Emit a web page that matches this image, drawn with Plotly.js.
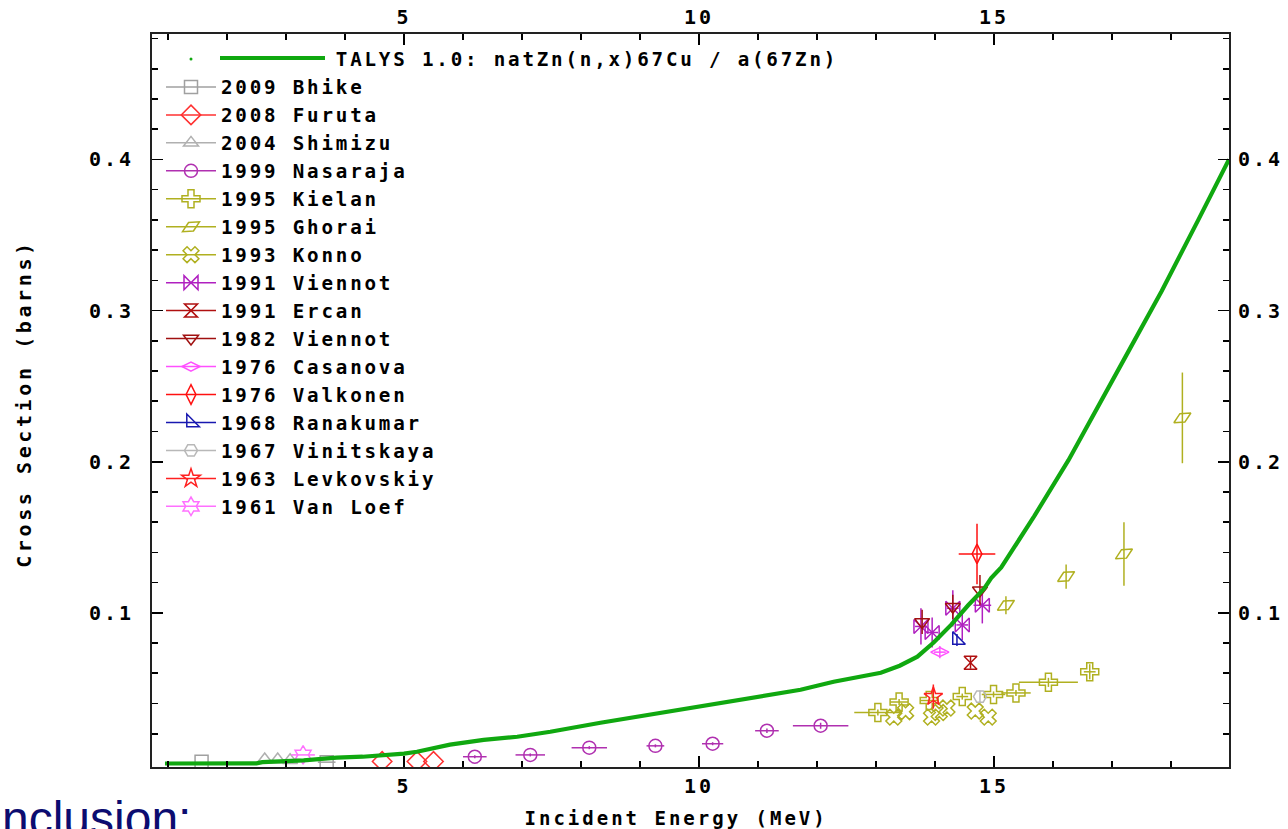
<!DOCTYPE html>
<html>
<head>
<meta charset="utf-8">
<script src="https://cdn.plot.ly/plotly-3.0.1.min.js"></script>
<style>
html,body{margin:0;padding:0;background:#fff;}
#chart{width:1288px;height:829px;}
.xtick text,.ytick text,.x2tick text,.y2tick text{letter-spacing:3px;}
text.legendtext{letter-spacing:2.8px;}
</style>
</head>
<body>
<div id="chart"></div>
<script>
// ---- TALYS 1.0 evaluation ----
const talysE = [0.95, 2.5, 2.6, 3.3, 3.86, 4.3, 5.0, 5.22, 5.78, 6.35, 6.92, 7.48, 8.33, 9.18, 10.03, 10.87, 11.72, 12.28, 13.08, 13.4, 13.7, 13.98, 14.27, 14.56, 14.83, 14.95, 15.12, 15.68, 16.26, 17.29, 17.84, 18.46, 18.98];
const talysS = [0.0003, 0.0004, 0.0012, 0.0024, 0.0042, 0.0048, 0.0068, 0.0081, 0.0128, 0.016, 0.018, 0.0213, 0.0273, 0.0326, 0.0379, 0.0438, 0.0491, 0.0544, 0.0603, 0.065, 0.071, 0.0805, 0.092, 0.105, 0.116, 0.123, 0.130, 0.164, 0.201, 0.274, 0.313, 0.360, 0.400];
const talysName = "TALYS 1.0: natZn(n,x)67Cu / a(67Zn)";

// ---- experimental data (E in MeV, cross section in barns) ----
const bhikeE = [1.57, 3.69], bhikeS = [0.0015, 0.0012], bhikeDE = [0, 0.15], bhikeDS = [0, 0];
const furutaE = [4.63, 5.22, 5.5], furutaS = [0.0017, 0.0017, 0.0017], furutaDE = [0, 0, 0], furutaDS = [0, 0, 0];
const shimizuE = [2.64, 2.86, 3.07], shimizuS = [0.003, 0.003, 0.0025], shimizuDE = [0, 0, 0], shimizuDS = [0, 0, 0];
const nasarajaE = [6.2, 7.14, 8.14, 9.26, 10.23, 11.15, 12.06], nasarajaS = [0.0048, 0.006, 0.0108, 0.012, 0.0134, 0.022, 0.0253], nasarajaDE = [0.2, 0.25, 0.3, 0.15, 0.18, 0.2, 0.47], nasarajaDS = [0.001, 0.001, 0.001, 0.001, 0.001, 0.0015, 0.002];
const kielanE = [13.03, 13.39, 13.9, 14.46, 14.99, 15.37, 15.92, 16.62], kielanS = [0.034, 0.041, 0.042, 0.0446, 0.046, 0.047, 0.054, 0.061], kielanDE = [0.4, 0.15, 0.15, 0.1, 0.2, 0.25, 0.5, 0.1], kielanDS = [0.002, 0.002, 0.002, 0.002, 0.002, 0.002, 0.003, 0.005];
const ghoraiE = [15.2, 16.22, 17.2, 18.19], ghoraiS = [0.105, 0.124, 0.139, 0.229], ghoraiDE = [0, 0, 0, 0], ghoraiDS = [0.006, 0.008, 0.021, 0.03];
const konnoE = [13.3, 13.5, 13.94, 14.07, 14.2, 14.68, 14.9], konnoS = [0.031, 0.0346, 0.031, 0.034, 0.037, 0.035, 0.031], konnoDE = [0, 0, 0, 0, 0, 0, 0], konnoDS = [0, 0, 0, 0, 0, 0, 0];
const viennot91E = [13.76, 13.95, 14.3, 14.46, 14.8], viennot91S = [0.091, 0.087, 0.103, 0.092, 0.105], viennot91DE = [0.1, 0.1, 0.1, 0.1, 0.15], viennot91DS = [0.012, 0.01, 0.012, 0.01, 0.012];
const ercanE = [14.6], ercanS = [0.067], ercanDE = [0], ercanDS = [0.004];
const viennot82E = [13.78, 14.3, 14.76], viennot82S = [0.094, 0.104, 0.115], viennot82DE = [0, 0, 0], viennot82DS = [0.008, 0.008, 0.01];
const casanovaE = [14.08], casanovaS = [0.074], casanovaDE = [0.1], casanovaDS = [0.004];
const valkonenE = [14.71], valkonenS = [0.139], valkonenDE = [0.31], valkonenDS = [0.02];
const ranakumarE = [14.37], ranakumarS = [0.082], ranakumarDE = [0], ranakumarDS = [0.004];
const vinitskayaE = [14.76], vinitskayaS = [0.0446], vinitskayaDE = [0], vinitskayaDS = [0.004];
const levkovskiyE = [13.97], levkovskiyS = [0.0446], levkovskiyDE = [0], levkovskiyDS = [0.008];
const vanloefE = [3.29], vanloefS = [0.006], vanloefDE = [0.2], vanloefDS = [0];

// ---- axis ticks and titles ----
const xMajor = [5, 10, 15];
const yMajor = [0.1, 0.2, 0.3, 0.4];
const yMajorText = ["0.1", "0.2", "0.3", "0.4"];
const xTitle = "Incident Energy (MeV)";
const yTitle = "Cross Section (barns)";
const slideText = "nclusion:";

const MONO = "DejaVu Sans Mono";

function sep(arr) {
  const out = [];
  arr.forEach((v, i) => { if (i) out.push(null); out.push(v); });
  return out;
}

function mk(name, E, S, dE, dS, symbol, color, size, angle) {
  return {
    type: "scatter",
    mode: "lines+markers",
    name: name,
    x: sep(E), y: sep(S),
    connectgaps: false,
    line: {color: color, width: 1.5},
    marker: {symbol: symbol, size: size || 13, color: color, angle: angle || 0,
             line: {color: color, width: 1.5}},
    error_x: {type: "data", array: sep(dE), visible: true, color: color, thickness: 1.5, width: 0},
    error_y: {type: "data", array: sep(dS), visible: true, color: color, thickness: 1.5, width: 0},
    hoverinfo: "x+y+name"
  };
}

const traces = [];
// legend-only entry for TALYS (dot + line drawn as shape)
traces.push({type: "scatter", mode: "markers", x: [null], y: [null],
  name: "\u00a0\u00a0\u00a0\u00a0\u00a0\u00a0\u00a0\u00a0" + talysName,
  marker: {size: 3, color: "#10a810"}});
traces.push(mk("2009 Bhike", bhikeE, bhikeS, bhikeDE, bhikeDS, "square-open", "#a0a0a0"));
traces.push(mk("2008 Furuta", furutaE, furutaS, furutaDE, furutaDS, "diamond-open", "#ff3030", 15));
traces.push(mk("2004 Shimizu", shimizuE, shimizuS, shimizuDE, shimizuDS, "triangle-up-open", "#b0b0b0"));
traces.push(mk("1999 Nasaraja", nasarajaE, nasarajaS, nasarajaDE, nasarajaDS, "circle-open", "#b030b0"));
traces.push(mk("1995 Kielan", kielanE, kielanS, kielanDE, kielanDS, "cross-open", "#b0b020", 15));
traces.push(mk("1995 Ghorai", ghoraiE, ghoraiS, ghoraiDE, ghoraiDS, "diamond-wide-open", "#b0b020", 14, -30));
traces.push(mk("1993 Konno", konnoE, konnoS, konnoDE, konnoDS, "x-open", "#b0b020", 14));
traces.push(mk("1991 Viennot", viennot91E, viennot91S, viennot91DE, viennot91DS, "bowtie-open", "#b020c0", 14));
traces.push(mk("1991 Ercan", ercanE, ercanS, ercanDE, ercanDS, "hourglass-open", "#b01010"));
traces.push(mk("1982 Viennot", viennot82E, viennot82S, viennot82DE, viennot82DS, "triangle-down-open", "#a01010"));
traces.push(mk("1976 Casanova", casanovaE, casanovaS, casanovaDE, casanovaDS, "diamond-wide-open", "#ff50ff", 13));
traces.push(mk("1976 Valkonen", valkonenE, valkonenS, valkonenDE, valkonenDS, "diamond-tall-open", "#ff1010", 14));
traces.push(mk("1968 Ranakumar", ranakumarE, ranakumarS, ranakumarDE, ranakumarDS, "triangle-sw-open", "#1818b0", 14));
traces.push(mk("1967 Vinitskaya", vinitskayaE, vinitskayaS, vinitskayaDE, vinitskayaDS, "hexagon2-open", "#b8b8b8"));
traces.push(mk("1963 Levkovskiy", levkovskiyE, levkovskiyS, levkovskiyDE, levkovskiyDS, "star-open", "#ff2020", 14));
traces.push(mk("1961 Van Loef", vanloefE, vanloefS, vanloefDE, vanloefDS, "hexagram-open", "#ff70ff", 14));
// TALYS curve
traces.push({type: "scatter", mode: "lines", x: talysE, y: talysS, name: talysName,
  showlegend: false, line: {color: "#10a810", width: 4.2}});
// invisible trace on the mirror axes so they are drawn
traces.push({type: "scatter", mode: "markers", x: [null], y: [null], xaxis: "x2", yaxis: "y2",
  showlegend: false, hoverinfo: "skip"});

const yMinor = [];
for (let i = 1; i <= 24; i++) { if (i % 5 !== 0) yMinor.push(Math.round(i * 0.02 * 1000) / 1000); }
const xMinor = [];
for (let i = 1; i <= 18; i++) { if (i % 5 !== 0) xMinor.push(i); }

const tickFont = {family: MONO, size: 20, color: "#000", weight: "bold"};
const xRange = [0.73, 18.98];
const yRange = [-0.002, 0.483];

function xAx(extra) {
  return Object.assign({
    range: xRange, tickmode: "array", tickvals: xMajor, ticks: "inside", ticklen: 11, tickwidth: 1.6,
    tickcolor: "#000", showline: true, linecolor: "#222", linewidth: 2, showgrid: false, zeroline: false,
    tickfont: tickFont, fixedrange: true,
    minor: {tickmode: "array", tickvals: xMinor, ticks: "inside", ticklen: 6, tickwidth: 1.6, tickcolor: "#000", showgrid: false}
  }, extra);
}
function yAx(extra) {
  return Object.assign({
    range: yRange, tickmode: "array", tickvals: yMajor, ticktext: yMajorText, ticks: "inside", ticklen: 11, tickwidth: 1.6,
    tickcolor: "#000", showline: true, linecolor: "#222", linewidth: 2, showgrid: false, zeroline: false,
    tickfont: tickFont, fixedrange: true,
    minor: {tickmode: "array", tickvals: yMinor, ticks: "inside", ticklen: 6, tickwidth: 1.6, tickcolor: "#000", showgrid: false}
  }, extra);
}

const W = 1288, H = 829, L = 152, R = 59, T = 34, B = 62;
const pw = W - L - R, ph = H - T - B;
const px = v => (v - L) / pw;
const py = v => (H - B - v) / ph;

const titleFontX = {family: MONO, size: 19, color: "#000", weight: "bold"};
const titleFontY = {family: MONO, size: 20, color: "#000", weight: "bold"};

const layout = {
  width: W, height: H,
  margin: {l: L, r: R, t: T, b: B, pad: 0},
  paper_bgcolor: "#fff", plot_bgcolor: "#fff",
  showlegend: true,
  legend: {x: px(161), y: py(40), xanchor: "left", yanchor: "top", bgcolor: "rgba(0,0,0,0)", borderwidth: 0,
           font: {family: MONO, size: 19.2, color: "#000", weight: "bold"}, itemwidth: 50, traceorder: "normal"},
  xaxis: xAx({ticklabelstandoff: 0}),
  xaxis2: xAx({overlaying: "x", side: "top", anchor: "y"}),
  yaxis: yAx({ticklabelstandoff: 12}),
  yaxis2: yAx({overlaying: "y", side: "right", anchor: "x", ticklabelstandoff: 3}),
  shapes: [{type: "line", xref: "paper", yref: "paper", x0: px(220), x1: px(325), y0: py(58), y1: py(58),
            line: {color: "#10a810", width: 4.2}}],
  annotations: [
    {text: xTitle, xref: "paper", yref: "paper", x: px(676), y: py(818), xanchor: "center", yanchor: "middle",
     showarrow: false, font: titleFontX},
    {text: yTitle, xref: "paper", yref: "paper", x: px(24), y: py(404), xanchor: "center", yanchor: "middle",
     textangle: -90, showarrow: false, font: titleFontY},
    {text: slideText, xref: "paper", yref: "paper", x: px(193), y: py(818), xanchor: "right", yanchor: "middle",
     showarrow: false, font: {family: "Liberation Sans", size: 48, color: "#0c0c70"}}
  ]
};

Plotly.newPlot("chart", traces, layout, {displayModeBar: false, staticPlot: true}).then(() => {
  document.querySelectorAll(".annotation-text").forEach(t => {
    const s = t.textContent;
    if (s === xTitle) t.style.letterSpacing = "3px";
    if (s === yTitle) t.style.letterSpacing = "3.6px";
  });
});
</script>
</body>
</html>
